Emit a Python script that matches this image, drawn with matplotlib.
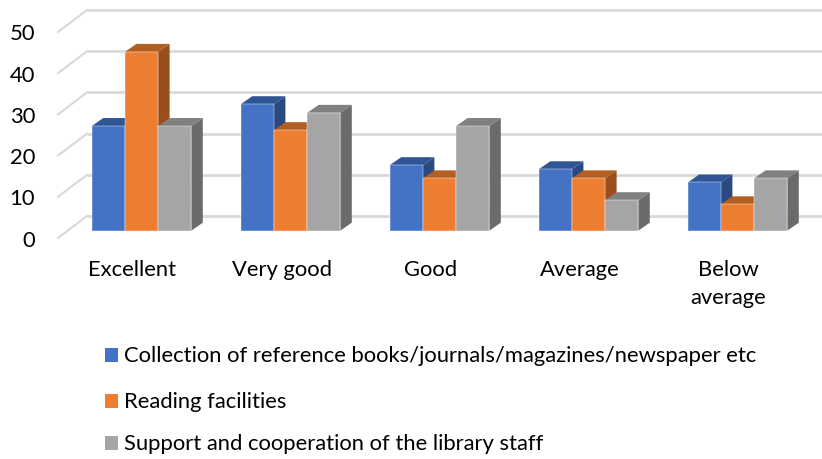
import matplotlib
matplotlib.use("Agg")
import matplotlib.pyplot as plt
from matplotlib.patches import Polygon, Rectangle

categories = ["Excellent", "Very good", "Good", "Average", "Below\naverage"]
series_names = ["Collection of reference books/journals/magazines/newspaper etc",
                "Reading facilities",
                "Support and cooperation of the library staff"]
collection = [25.4, 30.7, 15.9, 14.9, 11.7]
reading = [43.4, 24.4, 12.7, 12.7, 6.4]
support = [25.4, 28.6, 25.4, 7.4, 12.7]
yticks = [0, 10, 20, 30, 40, 50]

front_colors = ["#4472C4", "#ED7D31", "#A5A5A5"]
top_colors = ["#2F5597", "#B45F22", "#808080"]
side_colors = ["#29497F", "#9A4E1B", "#6B6B6B"]

FONT = "Lato"
FS = 15.8

W, H = 822, 459
fig = plt.figure(figsize=(W / 100, H / 100), dpi=100)
ax = fig.add_axes([0, 0, 1, 1])
ax.axis("off")

# layout scale (pixels per data unit)
PX_X = 149.0   # per category
PX_Y = 4.12    # per value unit
X0 = 141.5     # pixel x of first group centre
Y0 = 230.7     # pixel y (from top) of value 0 on bar front plane
ax.set_xlim(-X0 / PX_X, (W - X0) / PX_X)
ax.set_ylim(-(H - Y0) / PX_Y, Y0 / PX_Y)


def dx(px):
    return px / PX_X


def dy(px):
    return px / PX_Y


def xpix(px):
    return (px - X0) / PX_X


# depth offsets
BAR_DX, BAR_DY = dx(11.5), dy(8.0)
WALL_DX, WALL_DY = dx(20.0), dy(14.7)
FRONT_DY = dy(-7.3)

# back-wall gridlines and floor diagonals
wall_left = xpix(87)
wall_right = xpix(W)
for t in yticks:
    ax.plot([wall_left, wall_right], [t + WALL_DY, t + WALL_DY],
            color="#D9D9D9", lw=2, zorder=1, solid_capstyle="butt")
    ax.plot([xpix(58), wall_left], [t + FRONT_DY, t + WALL_DY],
            color="#D9D9D9", lw=1.5, zorder=1)
    ax.text(xpix(35), t - dy(15.8), str(t), ha="right", va="baseline",
            fontsize=FS, family=FONT, color="#000000")

# bars
bw = 33.2 / PX_X
series = [collection, reading, support]
for i in range(len(categories)):
    for j, vals in enumerate(series):
        v = vals[i]
        x0 = i + (j - 1.5) * bw
        x1 = x0 + bw
        z = 3 + i * 3 + j
        ax.add_patch(Polygon([(x1, 0), (x1 + BAR_DX, BAR_DY), (x1 + BAR_DX, v + BAR_DY), (x1, v)],
                             closed=True, facecolor=side_colors[j], edgecolor="none", zorder=z))
        ax.add_patch(Polygon([(x0, v), (x1, v), (x1 + BAR_DX, v + BAR_DY), (x0 + BAR_DX, v + BAR_DY)],
                             closed=True, facecolor=top_colors[j], edgecolor="none", zorder=z))
        ax.bar(x0, v, width=bw, align="edge", color=front_colors[j],
               edgecolor="#FFFFFF", linewidth=0.3, zorder=z + 0.5)

# category labels (first-line baseline ~45 px below bar bottom, 28.3 px line pitch)
for i, c in enumerate(categories):
    for k, line in enumerate(c.split("\n")):
        ax.text(i - dx(9), -dy(45 + 28.3 * k), line, ha="center", va="baseline",
                fontsize=FS, family=FONT, color="#000000")

# legend
leg_rows = [355, 401, 443]
for j, name in enumerate(series_names):
    yc = leg_rows[j]
    fig.patches.append(Rectangle((105 / W, 1 - (yc + 7) / H), 13 / W, 14 / H,
                                 transform=fig.transFigure, facecolor=front_colors[j],
                                 edgecolor="none"))
    fig.text(124 / W, 1 - (yc + 7.5) / H, name, ha="left", va="baseline", fontsize=FS,
             family=FONT, color="#000000")

fig.savefig("out.png", dpi=100)
